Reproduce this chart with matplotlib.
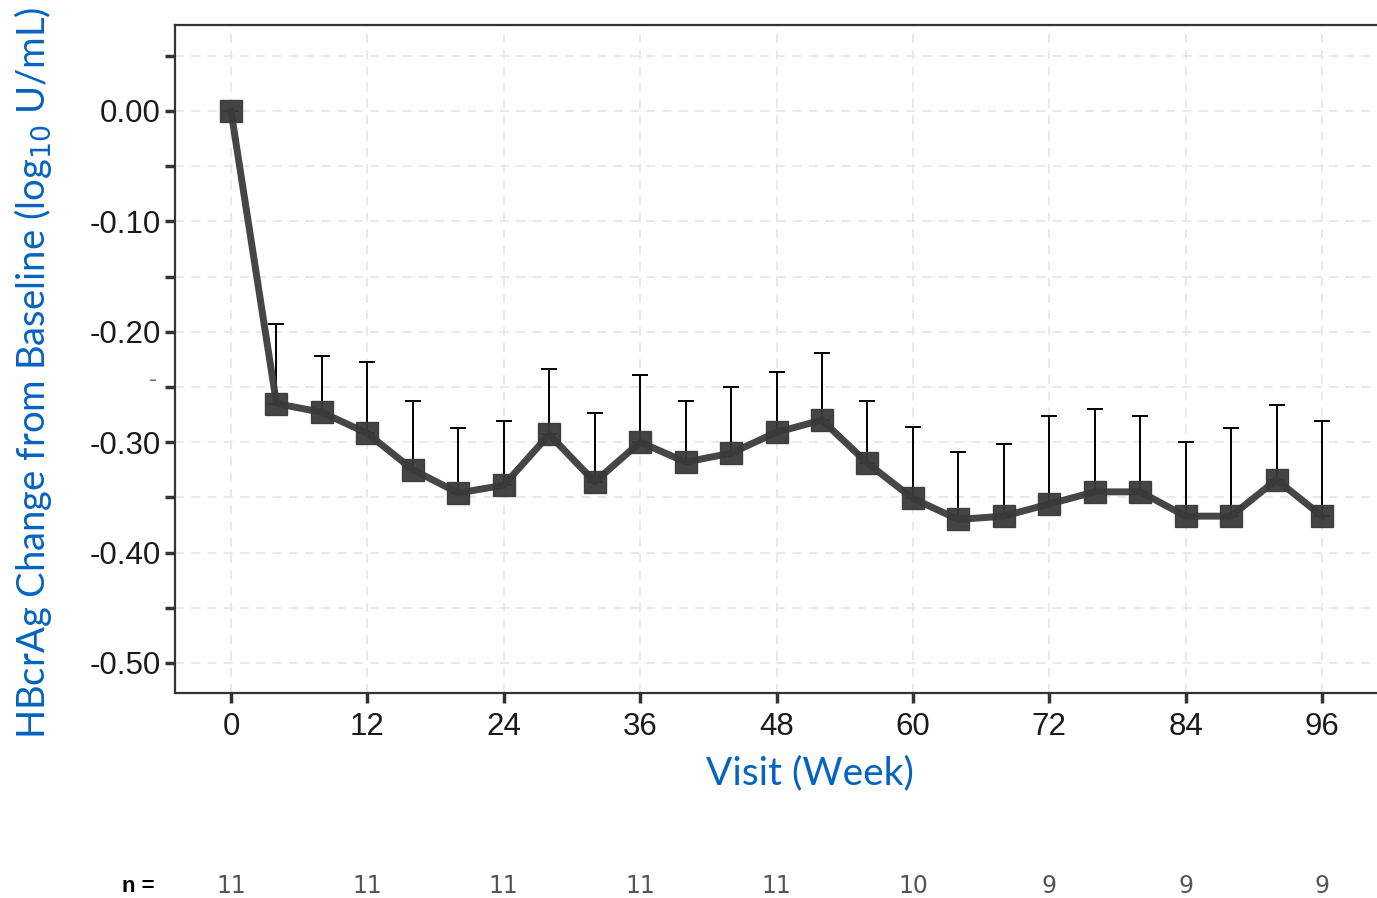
import matplotlib
matplotlib.use("Agg")
import matplotlib.pyplot as plt
import numpy as np

weeks = [0, 4, 8, 12, 16, 20, 24, 28, 32, 36, 40, 44, 48, 52, 56, 60, 64, 68, 72, 76, 80, 84, 88, 92, 96]
mean_change = [0.0, -0.265, -0.273, -0.292, -0.325, -0.346, -0.339, -0.293, -0.336, -0.300,
               -0.318, -0.310, -0.291, -0.280, -0.319, -0.351, -0.370, -0.367, -0.356, -0.345,
               -0.345, -0.367, -0.367, -0.334, -0.367]
upper_bar = [0.0, -0.193, -0.222, -0.227, -0.263, -0.287, -0.281, -0.234, -0.274, -0.239,
             -0.263, -0.250, -0.236, -0.219, -0.263, -0.286, -0.309, -0.302, -0.276, -0.270,
             -0.276, -0.300, -0.287, -0.266, -0.281]
xtick_weeks = [0, 12, 24, 36, 48, 60, 72, 84, 96]
n_counts = ["11", "11", "11", "11", "11", "10", "9", "9", "9"]
ytick_major = [0.0, -0.1, -0.2, -0.3, -0.4, -0.5]
ytick_labels = ["0.00", "-0.10", "-0.20", "-0.30", "-0.40", "-0.50"]
ytick_minor = [0.05, -0.05, -0.15, -0.25, -0.35, -0.45]

W, H = 1377, 898
fig = plt.figure(figsize=(W / 100, H / 100), dpi=100)
ax = fig.add_axes([175 / W, 1 - 693 / H, 1 - 175 / W, (693 - 25) / H])

blue = "#0563C1"
dark = "#333333"

ax.set_xlim(-4.93, 100.84)
ax.set_ylim(-0.5272, 0.0779)

# grid
grid_kw = dict(color="#ebe6e6", lw=1.3, ls=(0, (5, 4)), zorder=0)
for yv in ytick_major + ytick_minor:
    ax.axhline(yv, **grid_kw)
for xv in xtick_weeks:
    ax.axvline(xv, **grid_kw)

m = np.array(mean_change)
u = np.array(upper_bar)
ax.errorbar(weeks, m, yerr=[np.zeros_like(m), u - m], fmt="none", ecolor="black",
            elinewidth=1.4, capsize=5.5, capthick=1.4, zorder=2)
ax.plot(weeks, m, color="#3c3c3c", lw=5, marker="s", markersize=16,
        markerfacecolor="#3a3a3a", markeredgecolor="#3a3a3a", zorder=3, alpha=0.95)

ax.set_xticks(xtick_weeks)
ax.set_xticklabels([str(w) for w in xtick_weeks])
ax.set_yticks(ytick_major + ytick_minor)
ax.set_yticklabels(ytick_labels + [""] * len(ytick_minor))
ax.tick_params(axis="both", direction="out", length=7, width=2.5, color=dark,
               labelsize=22.5, labelcolor="#1a1a1a")
ax.tick_params(axis="x", pad=7)
ax.tick_params(axis="y", pad=3)
for lab in ax.get_xticklabels() + ax.get_yticklabels():
    lab.set_fontfamily("Liberation Sans")

for side in ["left", "bottom", "top"]:
    ax.spines[side].set_color(dark)
    ax.spines[side].set_linewidth(1.6)
ax.spines["right"].set_visible(False)

fig.text(810 / W, 1 - 773 / H, "Visit (Week)", ha="center", va="center",
         fontsize=28, color=blue, family="Lato")
fig.text(33 / W, 1 - 373 / H, "HBcrAg Change from Baseline (log$_{10}$ U/mL)",
         rotation=90, ha="center", va="center", fontsize=27.5, color=blue, family="Lato")

# n row
fig.text(138 / W, 1 - 886 / H, "n =", ha="center", va="center", fontsize=16,
         fontweight="bold", color="black", family="Liberation Sans")
for xv, nv in zip(xtick_weeks, n_counts):
    xd = ax.transData.transform((xv, 0))[0]
    fig.text(xd / W, 1 - 886 / H, nv, ha="center", va="center", fontsize=17,
             color="#555555", family="Liberation Sans Narrow")

fig.text(153 / W, 1 - 380 / H, "-", ha="center", va="center", fontsize=16, color="#777777")

fig.savefig("out.png", dpi=100)
